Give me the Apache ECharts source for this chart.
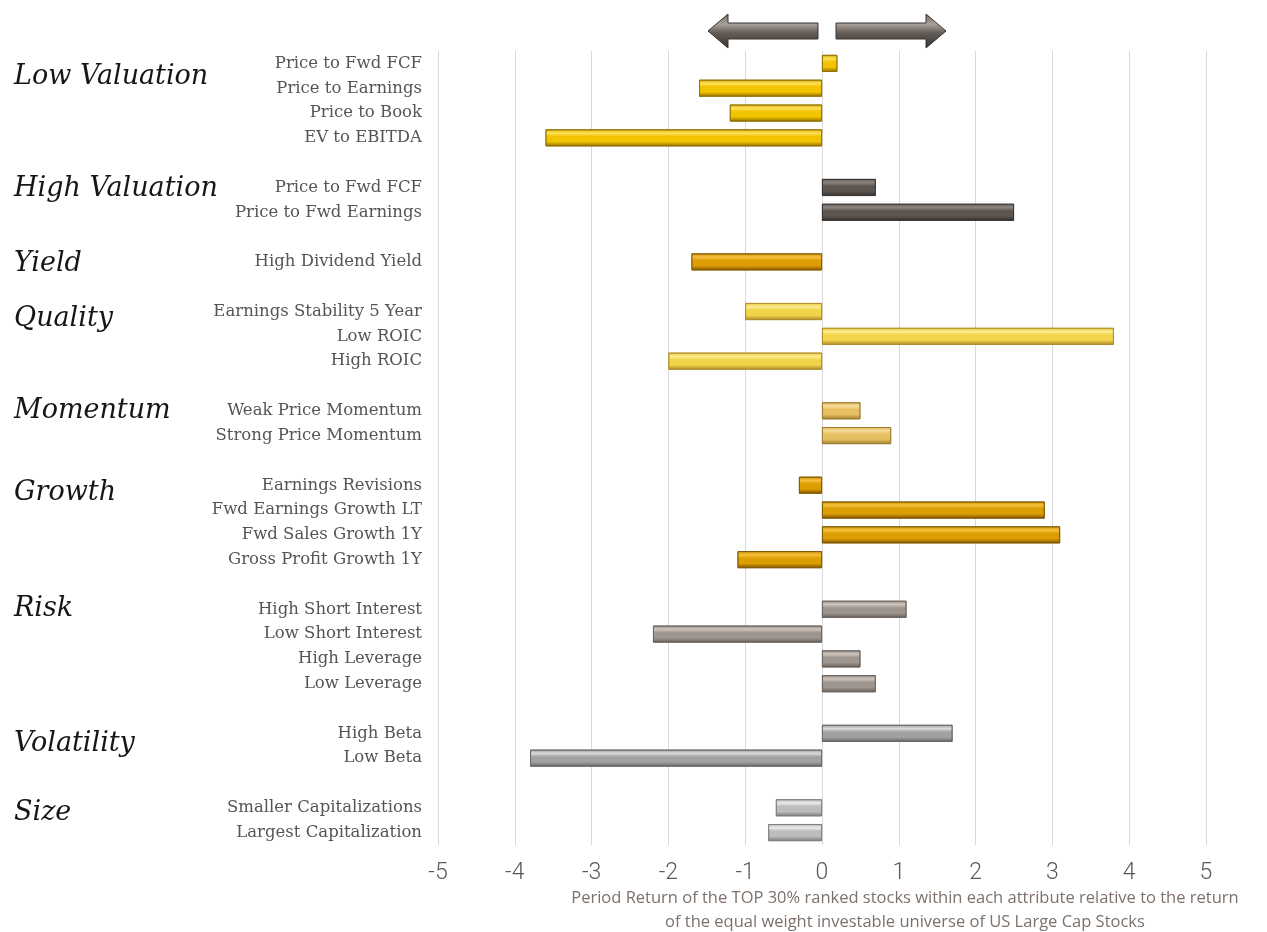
<!DOCTYPE html>
<html>
<head>
<meta charset="utf-8">
<title>Factor attribute returns</title>
<script src="https://cdn.jsdelivr.net/npm/echarts@6/dist/echarts.min.js"></script>
<style>
  html, body { margin: 0; padding: 0; background: #ffffff; }
  #chart { width: 1267px; height: 932px; }
</style>
</head>
<body>
<div id="chart"></div>
<script>
// Factor groups, their attributes and the relative period return of each attribute
const groupNames = ['Low Valuation', 'High Valuation', 'Yield', 'Quality', 'Momentum', 'Growth', 'Risk', 'Volatility', 'Size'];

const lowValuationAttrs = ['Price to Fwd FCF', 'Price to Earnings', 'Price to Book', 'EV to EBITDA'];
const lowValuationValues = [0.2, -1.6, -1.2, -3.6];

const highValuationAttrs = ['Price to Fwd FCF', 'Price to Fwd Earnings'];
const highValuationValues = [0.7, 2.5];

const yieldAttrs = ['High Dividend Yield'];
const yieldValues = [-1.7];

const qualityAttrs = ['Earnings Stability 5 Year', 'Low ROIC', 'High ROIC'];
const qualityValues = [-1.0, 3.8, -2.0];

const momentumAttrs = ['Weak Price Momentum', 'Strong Price Momentum'];
const momentumValues = [0.5, 0.9];

const growthAttrs = ['Earnings Revisions', 'Fwd Earnings Growth LT', 'Fwd Sales Growth 1Y', 'Gross Profit Growth 1Y'];
const growthValues = [-0.3, 2.9, 3.1, -1.1];

const riskAttrs = ['High Short Interest', 'Low Short Interest', 'High Leverage', 'Low Leverage'];
const riskValues = [1.1, -2.2, 0.5, 0.7];

const volatilityAttrs = ['High Beta', 'Low Beta'];
const volatilityValues = [1.7, -3.8];

const sizeAttrs = ['Smaller Capitalizations', 'Largest Capitalization'];
const sizeValues = [-0.6, -0.7];

const xTicks = [-5, -4, -3, -2, -1, 0, 1, 2, 3, 4, 5];

const axisTitleLines = [
  'Period Return of the TOP 30% ranked stocks within each attribute relative to the return',
  'of the equal weight investable universe of US Large Cap Stocks'
];

// ---- styling (kept apart from the data) ----
// [edge, main, highlight, dark] tones for the bevelled bars of each group
const groupTones = [
  ['#d6ab00', '#f2c300', '#ffe25a', '#8f7000'],   // Low Valuation
  ['#6a625d', '#5c5550', '#8c847e', '#34302d'],   // High Valuation
  ['#c98c00', '#de9c05', '#f6c040', '#855a00'],   // Yield
  ['#e8c63a', '#f2d34a', '#fcec8e', '#ad8c2a'],   // Quality
  ['#d9b050', '#e6bf62', '#f6dc9c', '#9d7c2c'],   // Momentum
  ['#cf9000', '#dc9e02', '#f5c23c', '#7e5600'],   // Growth
  ['#978f88', '#9d958e', '#cdc5bd', '#665e58'],   // Risk
  ['#9a9a9c', '#a2a2a4', '#dcdcdc', '#646466'],   // Volatility
  ['#b4b4b4', '#bcbcbc', '#ececec', '#7c7c7c']    // Size
];
// vertical nudge of each group title, in fractions of a row, from its first attribute row
const groupTitleShift = [0.55, 0.08, 0.1, 0.3, 0.0, 0.3, 0.0, 0.42, 0.2];

const attrLists = [lowValuationAttrs, highValuationAttrs, yieldAttrs, qualityAttrs, momentumAttrs, growthAttrs, riskAttrs, volatilityAttrs, sizeAttrs];
const valueLists = [lowValuationValues, highValuationValues, yieldValues, qualityValues, momentumValues, growthValues, riskValues, volatilityValues, sizeValues];

// Build the category rows with an empty spacer row between groups
const categories = [];
const barData = [];
const groupFirstRow = [];
attrLists.forEach(function (attrs, g) {
  if (g > 0) { categories.push(''); barData.push('-'); }
  groupFirstRow.push(categories.length);
  const tones = groupTones[g];
  attrs.forEach(function (name, i) {
    categories.push(name);
    barData.push({
      value: valueLists[g][i],
      itemStyle: {
        color: new echarts.graphic.LinearGradient(0, 0, 0, 1, [
          { offset: 0, color: tones[0] },
          { offset: 0.22, color: tones[2] },
          { offset: 0.42, color: tones[1] },
          { offset: 0.72, color: tones[1] },
          { offset: 1, color: tones[3] }
        ]),
        borderColor: tones[3],
        borderWidth: 0.8
      }
    });
  });
});

const chart = echarts.init(document.getElementById('chart'), null, { renderer: 'canvas' });

const GRID = { left: 438, right: 61, top: 51, bottom: 87 };

chart.setOption({
  backgroundColor: '#ffffff',
  animation: false,
  grid: GRID,
  xAxis: {
    type: 'value',
    min: xTicks[0],
    max: xTicks[xTicks.length - 1],
    interval: 1,
    axisLine: { show: false },
    axisTick: { show: false },
    splitLine: { show: true, lineStyle: { color: '#d9d9d9', width: 1 } },
    axisLabel: {
      margin: 17,
      color: '#595959',
      fontFamily: 'Roboto, "Liberation Sans", sans-serif',
      fontWeight: 300,
      fontSize: 23
    }
  },
  yAxis: {
    type: 'category',
    inverse: true,
    data: categories,
    axisLine: { show: false },
    axisTick: { show: false },
    splitLine: { show: false },
    axisLabel: {
      margin: 16,
      interval: 0,
      color: '#555555',
      fontFamily: '"DejaVu Serif", "Liberation Serif", serif',
      fontSize: 16.5
    }
  },
  series: [{
    type: 'bar',
    data: barData,
    barWidth: 17,
    silent: true
  }]
});

// Decorations and text that sit outside the plotting area
function drawOverlay() {
  const zeroX = chart.convertToPixel({ xAxisIndex: 0 }, 0);
  const rowY = function (i) { return chart.convertToPixel({ yAxisIndex: 0 }, i); };
  const rowStep = rowY(1) - rowY(0);
  const plotCenterX = chart.convertToPixel({ xAxisIndex: 0 }, 1.08);
  const bottomY = chart.getHeight() - GRID.bottom;

  const arrowFill = new echarts.graphic.LinearGradient(0, 0, 0, 1, [
    { offset: 0, color: '#6e6660' },
    { offset: 0.3, color: '#a9a098' },
    { offset: 0.55, color: '#655d57' },
    { offset: 1, color: '#36312d' }
  ]);
  const cy = 31, sh = 8, hh = 17, head = 20;
  const leftTip = zeroX - 114, leftEnd = zeroX - 4;
  const rightStart = zeroX + 14, rightTip = zeroX + 124;

  const elements = [
    {
      type: 'polygon',
      shape: { points: [
        [leftTip, cy], [leftTip + head, cy - hh], [leftTip + head, cy - sh],
        [leftEnd, cy - sh], [leftEnd, cy + sh], [leftTip + head, cy + sh], [leftTip + head, cy + hh]
      ] },
      style: { fill: arrowFill, stroke: '#3a3532', lineWidth: 1 }
    },
    {
      type: 'polygon',
      shape: { points: [
        [rightStart, cy - sh], [rightTip - head, cy - sh], [rightTip - head, cy - hh],
        [rightTip, cy], [rightTip - head, cy + hh], [rightTip - head, cy + sh], [rightStart, cy + sh]
      ] },
      style: { fill: arrowFill, stroke: '#3a3532', lineWidth: 1 }
    }
  ];

  groupNames.forEach(function (name, g) {
    elements.push({
      type: 'text',
      x: 14,
      y: rowY(groupFirstRow[g]) + groupTitleShift[g] * rowStep,
      style: {
        text: name,
        fill: '#161616',
        font: 'italic 27px "DejaVu Serif", "Liberation Serif", serif',
        textAlign: 'left',
        textVerticalAlign: 'middle'
      }
    });
  });

  axisTitleLines.forEach(function (line, i) {
    elements.push({
      type: 'text',
      x: plotCenterX,
      y: bottomY + 53 + i * 24,
      style: {
        text: line,
        fill: '#7d716a',
        font: '16.5px "Open Sans", "Liberation Sans", sans-serif',
        textAlign: 'center',
        textVerticalAlign: 'middle'
      }
    });
  });

  chart.setOption({ graphic: { elements: elements } });
}

drawOverlay();
</script>
</body>
</html>
